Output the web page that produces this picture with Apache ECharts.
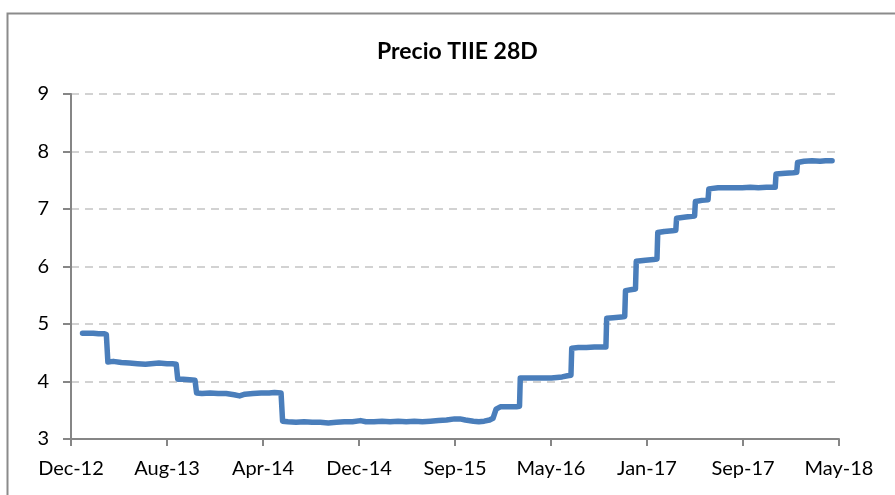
<!DOCTYPE html>
<html>
<head>
<meta charset="utf-8">
<script src="https://cdn.jsdelivr.net/npm/echarts@6/dist/echarts.min.js"></script>
<style>
html,body{margin:0;padding:0;background:#fff;}
#chart{width:895px;height:495px;}
</style>
</head>
<body>
<div id="chart"></div>
<script>
var chartTitle = 'Precio TIIE 28D';
var tickLabels = ['Dec-12','Aug-13','Apr-14','Dec-14','Sep-15','May-16','Jan-17','Sep-17','May-18'];
var axisStart = '2012-12-05';
var tickDays = 250;
var yTicks = [3, 9, 1];

var dates = [
'2013-01-04','2013-01-18','2013-02-01','2013-02-15','2013-03-01','2013-03-07','2013-03-11','2013-03-25',
'2013-04-15','2013-05-06','2013-05-27','2013-06-17','2013-07-01','2013-07-22','2013-08-12','2013-08-26',
'2013-09-05','2013-09-09','2013-09-23','2013-10-10','2013-10-24','2013-10-28','2013-11-11','2013-12-02',
'2013-12-23','2014-01-13','2014-02-03','2014-02-17','2014-03-03','2014-03-24','2014-04-14','2014-05-05',
'2014-05-19','2014-06-05','2014-06-09','2014-06-23','2014-07-14','2014-08-04','2014-08-25','2014-09-15',
'2014-10-06','2014-10-27','2014-11-17','2014-12-08','2014-12-29','2015-01-12','2015-02-02','2015-02-23',
'2015-03-16','2015-04-06','2015-04-27','2015-05-18','2015-06-08','2015-06-29','2015-07-20','2015-08-10',
'2015-08-31','2015-09-14','2015-09-28','2015-10-19','2015-11-02','2015-11-16','2015-11-30','2015-12-09',
'2015-12-17','2015-12-28','2016-01-18','2016-02-08','2016-02-16','2016-02-18','2016-03-07','2016-03-28',
'2016-04-18','2016-05-09','2016-05-23','2016-06-06','2016-06-20','2016-06-29','2016-07-01','2016-07-18',
'2016-08-08','2016-08-29','2016-09-19','2016-09-28','2016-09-30','2016-10-17','2016-11-07','2016-11-16',
'2016-11-18','2016-12-05','2016-12-14','2016-12-16','2017-01-09','2017-01-30','2017-02-08','2017-02-10',
'2017-02-27','2017-03-20','2017-03-29','2017-03-31','2017-04-24','2017-05-17','2017-05-19','2017-06-05',
'2017-06-21','2017-06-23','2017-07-17','2017-08-07','2017-08-28','2017-09-18','2017-10-09','2017-10-30',
'2017-11-20','2017-12-13','2017-12-15','2018-01-08','2018-01-29','2018-02-07','2018-02-09','2018-02-26',
'2018-03-19','2018-04-09','2018-04-23','2018-05-10'
];
var rates = [
4.84,4.84,4.84,4.83,4.83,4.82,4.34,4.35,
4.33,4.32,4.31,4.30,4.31,4.32,4.31,4.31,
4.30,4.04,4.04,4.03,4.02,3.80,3.79,3.80,
3.79,3.79,3.77,3.75,3.78,3.79,3.80,3.80,
3.81,3.80,3.31,3.30,3.29,3.30,3.29,3.29,
3.28,3.29,3.30,3.30,3.32,3.30,3.30,3.31,
3.30,3.31,3.30,3.31,3.30,3.31,3.32,3.33,
3.35,3.35,3.33,3.31,3.30,3.31,3.33,3.36,
3.52,3.56,3.56,3.56,3.57,4.06,4.06,4.06,
4.06,4.06,4.07,4.08,4.10,4.11,4.58,4.59,
4.59,4.60,4.60,4.60,5.10,5.11,5.12,5.13,
5.58,5.60,5.61,6.09,6.11,6.12,6.13,6.59,
6.61,6.62,6.63,6.84,6.86,6.88,7.13,7.15,
7.16,7.35,7.37,7.37,7.37,7.37,7.38,7.37,
7.38,7.38,7.61,7.62,7.63,7.64,7.81,7.83,
7.84,7.83,7.84,7.84
];

var DAY = 86400000;
function toMs(s){ var p = s.split('-'); return Date.UTC(+p[0], +p[1]-1, +p[2]); }
var xMin = toMs(axisStart);
var xStep = tickDays * DAY;
var xMax = xMin + (tickLabels.length - 1) * xStep;
var seriesData = dates.map(function(d, i){ return [toMs(d), rates[i]]; });

var chart = echarts.init(document.getElementById('chart'), null, {renderer:'canvas'});
var FONT = 'Lato';
chart.setOption({
  animation: false,
  backgroundColor: '#fff',
  graphic: [{
    type: 'rect', left: 5, top: 11, silent: true,
    shape: {width: 1000, height: 1000},
    style: {fill: 'none', stroke: '#8b8b8b', lineWidth: 2}
  }],
  title: {
    text: chartTitle, left: 372, top: 35,
    textStyle: {fontFamily: FONT, fontWeight: 'bold', fontSize: 23, color: '#000'}
  },
  grid: {left: 71, right: 56, top: 94, bottom: 56, containLabel: false},
  xAxis: {
    type: 'value', min: xMin, max: xMax, interval: xStep,
    axisLine: {show: true, lineStyle: {color: '#868686', width: 2}},
    axisTick: {show: true, length: 7, lineStyle: {color: '#868686', width: 2}},
    splitLine: {show: false},
    axisLabel: {
      margin: 20, color: '#000', fontFamily: FONT, fontSize: 20,
      showMinLabel: true, showMaxLabel: true, hideOverlap: false,
      formatter: function(v){ var i = Math.round((v - xMin) / xStep); return tickLabels[i] || ''; }
    }
  },
  yAxis: {
    type: 'value', min: yTicks[0], max: yTicks[1], interval: yTicks[2],
    axisLine: {show: true, lineStyle: {color: '#868686', width: 2}},
    axisTick: {show: true, length: 8, lineStyle: {color: '#868686', width: 2}},
    splitLine: {show: true, lineStyle: {color: '#c3c3c3', width: 1.5, type: [8, 6]}},
    axisLabel: {margin: 22, color: '#000', fontFamily: FONT, fontSize: 20}
  },
  series: [{
    type: 'line', data: seriesData, showSymbol: false, symbol: 'none',
    lineStyle: {color: '#4a7ebb', width: 5.5, cap: 'round', join: 'round'},
    z: 3
  }]
});
</script>
</body>
</html>
